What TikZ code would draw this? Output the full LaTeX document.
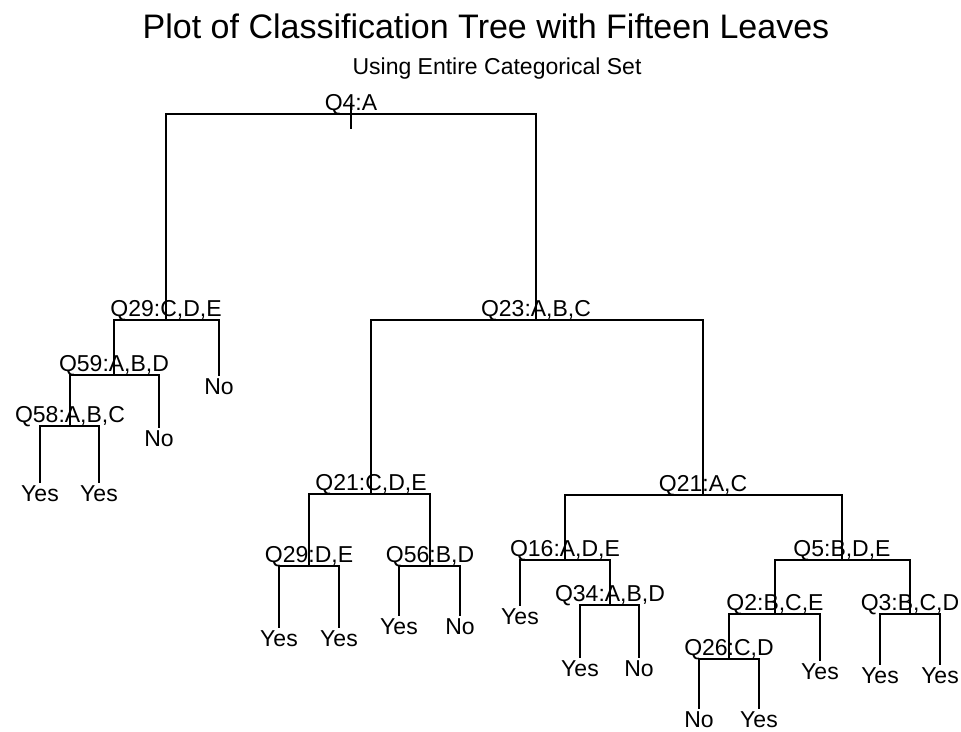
\documentclass[tikz,border=0pt]{standalone}
\usepackage{fontspec}
\setmainfont{Liberation Sans}
\usetikzlibrary{positioning}

\begin{document}
\begin{tikzpicture}[x=1pt, y=-1pt, inner sep=0pt]
    \tikzstyle{br}=[line width=1.7pt, line cap=rect]
    \tikzstyle{splitlab}=[anchor=base, font=\fontsize{23}{25}\selectfont]
    \tikzstyle{leaflab}=[anchor=north, font=\fontsize{23}{25}\selectfont]

    \useasboundingbox (0,0) rectangle (961,731);

    \node[anchor=base, font=\fontsize{34}{36}\selectfont] (title) at (486,38)
      {Plot of Classification Tree with Fifteen Leaves};
    \node[anchor=base, font=\fontsize{23}{25}\selectfont] (subtitle) at (497,74)
      {Using Entire Categorical Set};

    % les noeuds de coupure...
    \coordinate (Q4) at (351,114);
    \coordinate (Q29) at (166,320);
    \coordinate (Q59) at (114,375);
    \coordinate (Q58) at (70,426);
    \coordinate (Q23) at (536,320);
    \coordinate (Q21a) at (371,494);
    \coordinate (Q29b) at (309,566);
    \coordinate (Q56) at (430,566);
    \coordinate (Q21b) at (703,495);
    \coordinate (Q16) at (565,560);
    \coordinate (Q34) at (610,605);
    \coordinate (Q5) at (842,560);
    \coordinate (Q2) at (775,614);
    \coordinate (Q26) at (729,659);
    \coordinate (Q3) at (910,614);

    \node[splitlab] (Q4l) at ([yshift=4pt] Q4) {Q4:A};
    \node[splitlab] (Q29l) at ([yshift=4pt] Q29) {Q29:C,D,E};
    \node[splitlab] (Q59l) at ([yshift=4pt] Q59) {Q59:A,B,D};
    \node[splitlab] (Q58l) at ([yshift=4pt] Q58) {Q58:A,B,C};
    \node[splitlab] (Q23l) at ([yshift=4pt] Q23) {Q23:A,B,C};
    \node[splitlab] (Q21al) at ([yshift=4pt] Q21a) {Q21:C,D,E};
    \node[splitlab] (Q29bl) at ([yshift=4pt] Q29b) {Q29:D,E};
    \node[splitlab] (Q56l) at ([yshift=4pt] Q56) {Q56:B,D};
    \node[splitlab] (Q21bl) at ([yshift=4pt] Q21b) {Q21:A,C};
    \node[splitlab] (Q16l) at ([yshift=4pt] Q16) {Q16:A,D,E};
    \node[splitlab] (Q34l) at ([yshift=4pt] Q34) {Q34:A,B,D};
    \node[splitlab] (Q5l) at ([yshift=4pt] Q5) {Q5:B,D,E};
    \node[splitlab] (Q2l) at ([yshift=4pt] Q2) {Q2:B,C,E};
    \node[splitlab] (Q26l) at ([yshift=4pt] Q26) {Q26:C,D};
    \node[splitlab] (Q3l) at ([yshift=4pt] Q3) {Q3:B,C,D};

    % les feuilles...
    \coordinate (F1) at (40,482);
    \coordinate (F2) at (99,482);
    \coordinate (F3) at (159,427);
    \coordinate (F4) at (219,375);
    \coordinate (F5) at (279,627);
    \coordinate (F6) at (339,627);
    \coordinate (F7) at (399,615);
    \coordinate (F8) at (460,615);
    \coordinate (F9) at (520,605);
    \coordinate (F10) at (580,657);
    \coordinate (F11) at (639,657);
    \coordinate (F12) at (699,708);
    \coordinate (F13) at (759,708);
    \coordinate (F14) at (820,660);
    \coordinate (F15) at (880,664);
    \coordinate (F16) at (940,664);

    \node[leaflab] (F1l) [below=3pt of F1] {Yes};
    \node[leaflab] (F2l) [below=3pt of F2] {Yes};
    \node[leaflab] (F3l) [below=3pt of F3] {No};
    \node[leaflab] (F4l) [below=3pt of F4] {No};
    \node[leaflab] (F5l) [below=3pt of F5] {Yes};
    \node[leaflab] (F6l) [below=3pt of F6] {Yes};
    \node[leaflab] (F7l) [below=3pt of F7] {Yes};
    \node[leaflab] (F8l) [below=3pt of F8] {No};
    \node[leaflab] (F9l) [below=3pt of F9] {Yes};
    \node[leaflab] (F10l) [below=3pt of F10] {Yes};
    \node[leaflab] (F11l) [below=3pt of F11] {No};
    \node[leaflab] (F12l) [below=3pt of F12] {No};
    \node[leaflab] (F13l) [below=3pt of F13] {Yes};
    \node[leaflab] (F14l) [below=3pt of F14] {Yes};
    \node[leaflab] (F15l) [below=3pt of F15] {Yes};
    \node[leaflab] (F16l) [below=3pt of F16] {Yes};

    % les branches...
    \draw[br] ([yshift=10pt] Q4) to ([yshift=-14pt] Q4);
    \draw[br] (Q29) |- (Q4) -| (Q23);
    \draw[br] (Q59) |- (Q29) -| (F4);
    \draw[br] (Q58) |- (Q59) -| (F3);
    \draw[br] (F1) |- (Q58) -| (F2);
    \draw[br] (Q21a) |- (Q23) -| (Q21b);
    \draw[br] (Q29b) |- (Q21a) -| (Q56);
    \draw[br] (F5) |- (Q29b) -| (F6);
    \draw[br] (F7) |- (Q56) -| (F8);
    \draw[br] (Q16) |- (Q21b) -| (Q5);
    \draw[br] (F9) |- (Q16) -| (Q34);
    \draw[br] (F10) |- (Q34) -| (F11);
    \draw[br] (Q2) |- (Q5) -| (Q3);
    \draw[br] (Q26) |- (Q2) -| (F14);
    \draw[br] (F12) |- (Q26) -| (F13);
    \draw[br] (F15) |- (Q3) -| (F16);
\end{tikzpicture}
\end{document}
